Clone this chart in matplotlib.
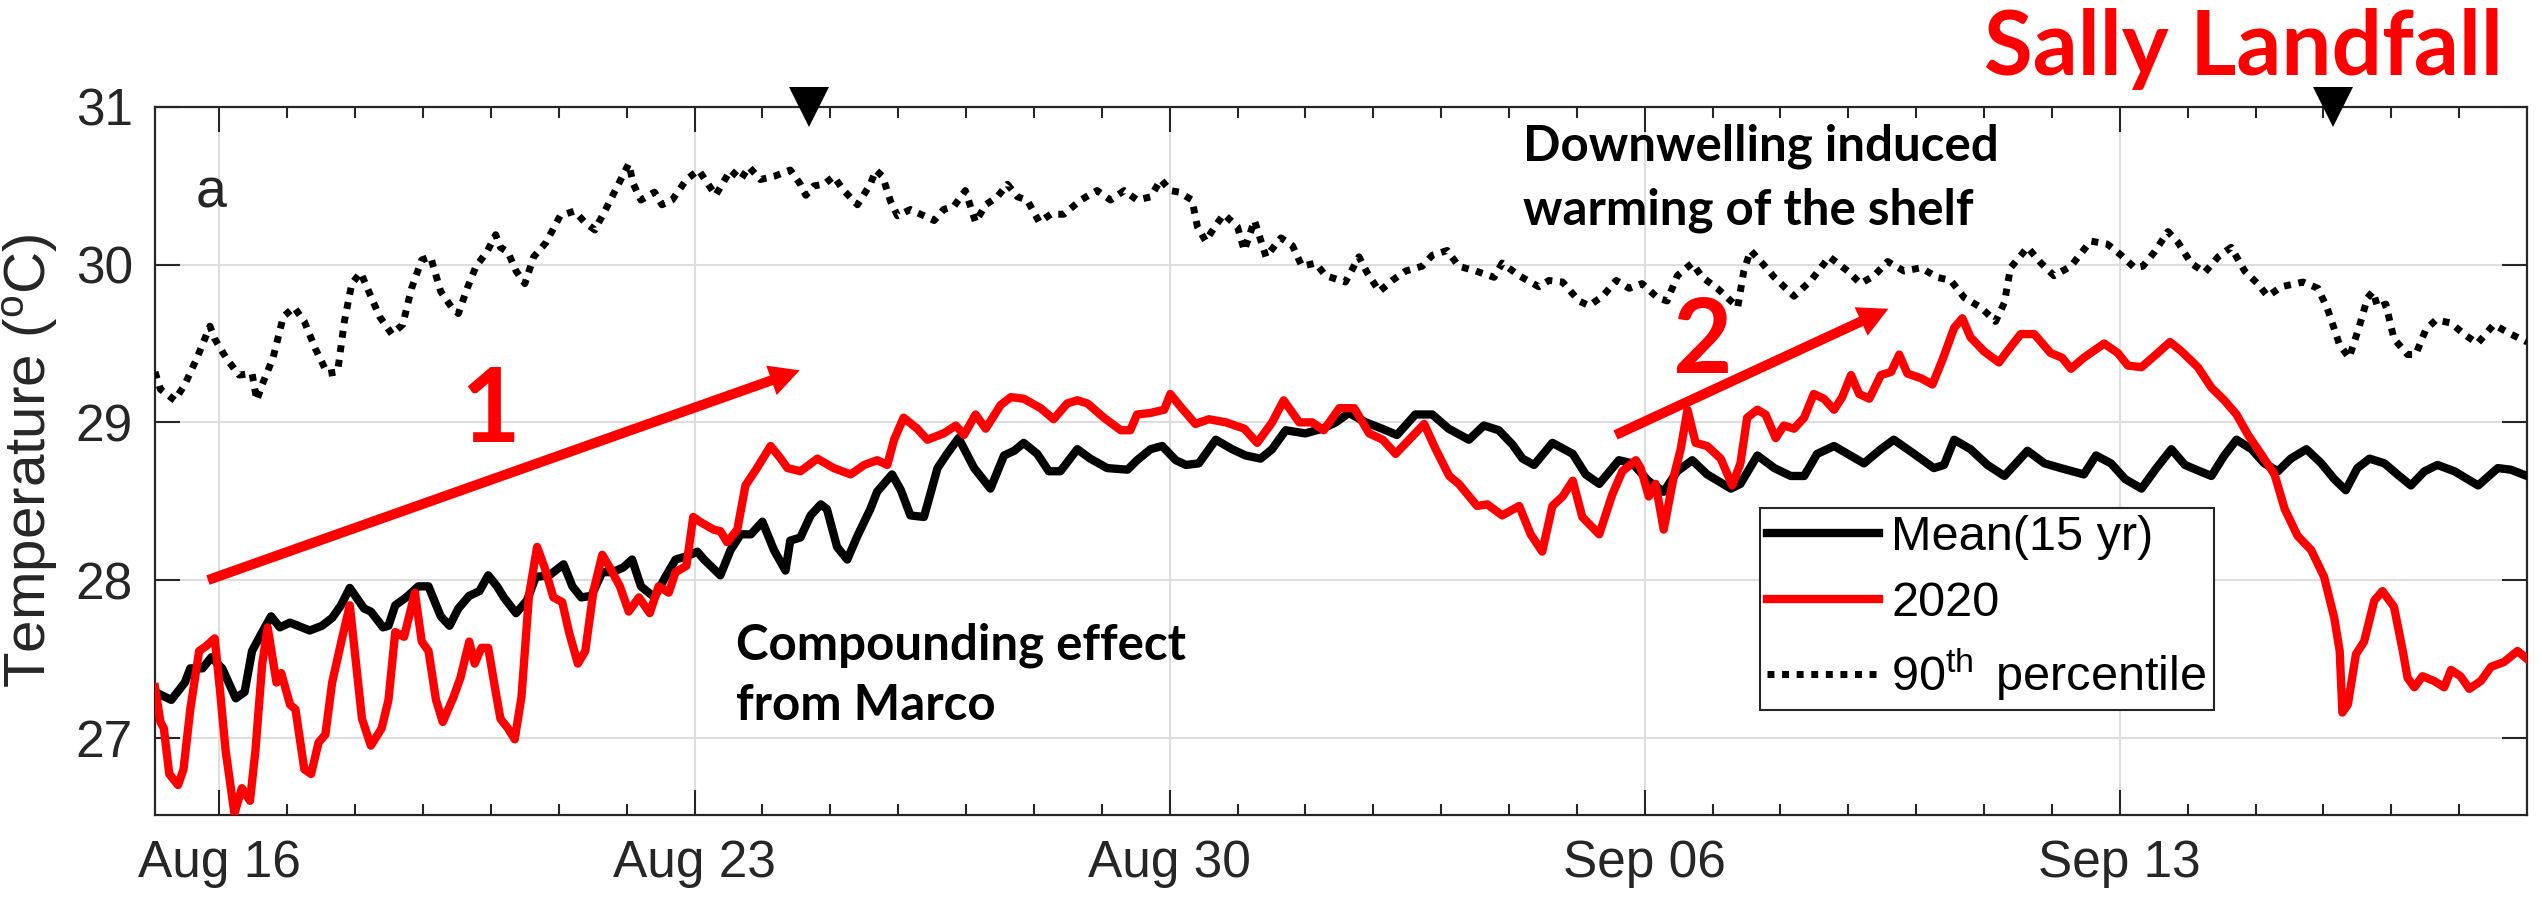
import numpy as np
import matplotlib
matplotlib.use("Agg")
import matplotlib.pyplot as plt
import matplotlib.dates as mdates
from datetime import datetime

plt.rcParams['font.family'] = ['Liberation Sans', 'DejaVu Sans']
plt.rcParams['mathtext.fontset'] = 'custom'
plt.rcParams['mathtext.rm'] = 'Liberation Sans'
plt.rcParams['mathtext.it'] = 'Liberation Sans:italic'

# days since 2020-08-15 00:00
start = mdates.date2num(datetime(2020, 8, 15))

# Mean (15 yr)
t_mean = [0.05, 0.29, 0.49, 0.57, 0.75, 0.88, 1.04, 1.24, 1.37, 1.48, 1.63, 1.76, 1.89, 2.04, 2.33, 2.51,
          2.66, 2.79, 2.92, 3.05, 3.13, 3.23, 3.41, 3.49, 3.59, 3.75, 3.93, 4.08, 4.26, 4.39, 4.52, 4.68,
          4.83, 4.96, 5.09, 5.19, 5.37, 5.53, 5.66, 5.86, 6.07, 6.20, 6.33, 6.48, 6.64, 6.79, 6.95, 7.08,
          7.21, 7.41, 7.57, 7.72, 7.88, 8.04, 8.14, 8.38, 8.53, 8.68, 8.83, 9.00, 9.17, 9.34, 9.41, 9.56,
          9.71, 9.86, 9.95, 10.10, 10.25, 10.40, 10.59, 10.69, 10.91, 11.04, 11.18, 11.38, 11.58, 11.72,
          11.89, 12.12, 12.36, 12.56, 12.71, 12.85, 13.05, 13.22, 13.39, 13.64, 13.83, 14.08, 14.38, 14.52,
          14.72, 14.89, 15.09, 15.24, 15.43, 15.68, 15.92, 16.12, 16.34, 16.51, 16.71, 17.00, 17.25, 17.45,
          17.64, 17.89, 18.13, 18.35, 18.62, 18.87, 19.11, 19.41, 19.63, 19.85, 20.05, 20.20, 20.37, 20.64,
          20.94, 21.13, 21.33, 21.62, 21.82, 22.05, 22.28, 22.48, 22.70, 22.92, 23.27, 23.41, 23.66, 23.91,
          24.15, 24.35, 24.54, 24.79, 24.99, 25.23, 25.48, 25.67, 25.97, 26.26, 26.41, 26.56, 26.80, 27.05,
          27.30, 27.64, 27.89, 28.13, 28.47, 28.65, 28.87, 29.08, 29.32, 29.54, 29.76, 29.96, 30.18, 30.35,
          30.54, 30.72, 30.94, 31.13, 31.33, 31.52, 31.75, 31.97, 32.16, 32.33, 32.50, 32.68, 32.90, 33.09,
          33.29, 33.49, 33.68, 33.93, 34.28, 34.57, 34.76, 35.0]
mean_15yr = [27.29, 27.24, 27.35, 27.44, 27.44, 27.51, 27.44, 27.25, 27.29, 27.55, 27.67, 27.77, 27.70, 27.73,
             27.68, 27.71, 27.76, 27.84, 27.95, 27.87, 27.82, 27.80, 27.70, 27.71, 27.84, 27.89, 27.96, 27.96,
             27.77, 27.71, 27.82, 27.90, 27.93, 28.03, 27.96, 27.89, 27.79, 27.87, 28.02, 28.03, 28.10, 27.96,
             27.89, 27.90, 28.05, 28.05, 28.08, 28.13, 27.96, 27.89, 28.02, 28.13, 28.15, 28.18, 28.13, 28.03,
             28.19, 28.29, 28.29, 28.37, 28.19, 28.06, 28.25, 28.27, 28.41, 28.48, 28.45, 28.21, 28.13, 28.28,
             28.45, 28.56, 28.67, 28.57, 28.41, 28.40, 28.71, 28.80, 28.90, 28.71, 28.58, 28.79, 28.82, 28.87,
             28.80, 28.69, 28.69, 28.83, 28.77, 28.71, 28.70, 28.76, 28.83, 28.85, 28.76, 28.73, 28.74, 28.89,
             28.83, 28.79, 28.77, 28.83, 28.95, 28.93, 28.96, 29.00, 29.06, 29.00, 28.96, 28.92, 29.05, 29.05,
             28.96, 28.89, 28.98, 28.95, 28.86, 28.77, 28.73, 28.87, 28.80, 28.67, 28.61, 28.76, 28.74, 28.63,
             28.56, 28.69, 28.76, 28.67, 28.58, 28.61, 28.79, 28.71, 28.66, 28.66, 28.80, 28.85, 28.80, 28.74,
             28.83, 28.89, 28.80, 28.71, 28.73, 28.89, 28.83, 28.73, 28.66, 28.82, 28.74, 28.71, 28.67, 28.79,
             28.74, 28.64, 28.58, 28.71, 28.83, 28.73, 28.69, 28.66, 28.79, 28.89, 28.83, 28.74, 28.69, 28.77,
             28.83, 28.74, 28.64, 28.57, 28.71, 28.77, 28.74, 28.67, 28.60, 28.69, 28.73, 28.69, 28.60, 28.71,
             28.70, 28.66]

# 2020
t_2020 = [0.05, 0.13, 0.18, 0.26, 0.39, 0.47, 0.57, 0.70, 0.80, 0.93, 1.01, 1.09, 1.22, 1.33, 1.45, 1.53,
          1.63, 1.71, 1.84, 1.91, 2.04, 2.12, 2.25, 2.35, 2.46, 2.56, 2.66, 2.79, 2.92, 3.02, 3.10, 3.23,
          3.39, 3.49, 3.59, 3.72, 3.88, 3.98, 4.08, 4.19, 4.29, 4.45, 4.55, 4.68, 4.76, 4.86, 4.96, 5.07,
          5.14, 5.25, 5.35, 5.45, 5.56, 5.68, 5.79, 5.92, 6.05, 6.15, 6.28, 6.39, 6.51, 6.64, 6.75, 6.90,
          7.03, 7.18, 7.34, 7.47, 7.62, 7.72, 7.88, 7.98, 8.08, 8.28, 8.38, 8.48, 8.63, 8.75, 8.92, 9.12,
          9.27, 9.37, 9.56, 9.81, 10.05, 10.30, 10.50, 10.69, 10.84, 10.94, 11.08, 11.28, 11.43, 11.67,
          11.85, 11.97, 12.14, 12.29, 12.51, 12.66, 12.85, 13.10, 13.29, 13.49, 13.64, 13.79, 14.03, 14.28,
          14.42, 14.52, 14.72, 14.92, 15.01, 15.14, 15.38, 15.58, 15.83, 16.10, 16.29, 16.51, 16.68, 16.91,
          17.10, 17.27, 17.50, 17.72, 17.94, 18.14, 18.33, 18.53, 18.75, 18.92, 19.12, 19.26, 19.53, 19.68,
          19.90, 20.15, 20.32, 20.49, 20.64, 20.79, 20.94, 21.08, 21.33, 21.52, 21.67, 21.87, 21.94, 22.06,
          22.16, 22.28, 22.43, 22.53, 22.63, 22.75, 22.92, 23.12, 23.29, 23.41, 23.51, 23.66, 23.78, 23.93,
          24.05, 24.20, 24.35, 24.49, 24.64, 24.79, 24.91, 25.04, 25.16, 25.31, 25.48, 25.63, 25.75, 25.87,
          26.07, 26.24, 26.39, 26.56, 26.68, 26.80, 27.00, 27.22, 27.34, 27.54, 27.74, 27.98, 28.15, 28.28,
          28.47, 28.77, 28.97, 29.12, 29.32, 29.56, 29.74, 29.91, 30.15, 30.35, 30.54, 30.72, 30.89, 31.08,
          31.28, 31.43, 31.62, 31.82, 32.01, 32.16, 32.24, 32.28, 32.36, 32.48, 32.60, 32.75, 32.87, 33.04,
          33.17, 33.24, 33.34, 33.46, 33.63, 33.78, 33.88, 34.02, 34.15, 34.32, 34.47, 34.66, 34.86, 35.0]
temp_2020 = [27.32, 27.10, 27.06, 26.77, 26.70, 26.80, 27.18, 27.55, 27.58, 27.63, 27.29, 26.92, 26.52, 26.68,
             26.60, 26.92, 27.47, 27.70, 27.35, 27.41, 27.21, 27.18, 26.80, 26.77, 26.97, 27.02, 27.35, 27.60,
             27.84, 27.44, 27.12, 26.95, 27.06, 27.24, 27.67, 27.64, 27.92, 27.61, 27.55, 27.24, 27.10, 27.26,
             27.38, 27.61, 27.47, 27.57, 27.57, 27.29, 27.12, 27.06, 26.99, 27.26, 27.90, 28.21, 28.08, 27.89,
             27.86, 27.67, 27.47, 27.55, 27.93, 28.16, 28.08, 27.96, 27.80, 27.89, 27.79, 27.96, 27.92, 28.05,
             28.09, 28.40, 28.37, 28.32, 28.31, 28.24, 28.32, 28.60, 28.71, 28.85, 28.77, 28.71, 28.69, 28.77,
             28.71, 28.67, 28.73, 28.76, 28.73, 28.89, 29.03, 28.96, 28.89, 28.93, 28.98, 28.92, 29.05, 28.96,
             29.11, 29.16, 29.15, 29.09, 29.02, 29.12, 29.14, 29.12, 29.03, 28.95, 28.95, 29.05, 29.06, 29.08,
             29.18, 29.11, 28.99, 29.02, 29.00, 28.96, 28.87, 29.00, 29.14, 29.00, 29.00, 28.95, 29.09, 29.09,
             28.93, 28.89, 28.80, 28.89, 28.99, 28.83, 28.66, 28.61, 28.47, 28.48, 28.41, 28.47, 28.29, 28.18,
             28.47, 28.53, 28.63, 28.40, 28.29, 28.54, 28.69, 28.76, 28.71, 28.53, 28.61, 28.32, 28.66, 28.83,
             29.08, 28.87, 28.85, 28.77, 28.60, 28.74, 29.03, 29.08, 29.05, 28.90, 28.98, 28.96, 29.03, 29.18,
             29.15, 29.08, 29.16, 29.30, 29.18, 29.15, 29.30, 29.32, 29.43, 29.31, 29.28, 29.24, 29.40, 29.60,
             29.66, 29.54, 29.45, 29.38, 29.45, 29.56, 29.56, 29.44, 29.41, 29.34, 29.41, 29.50, 29.44, 29.36,
             29.35, 29.44, 29.51, 29.45, 29.35, 29.22, 29.14, 29.05, 28.92, 28.80, 28.67, 28.45, 28.28, 28.19,
             28.02, 27.76, 27.55, 27.16, 27.21, 27.53, 27.61, 27.87, 27.93, 27.83, 27.55, 27.38, 27.32, 27.39,
             27.36, 27.32, 27.43, 27.39, 27.31, 27.36, 27.45, 27.48, 27.55, 27.50]

# 90th percentile
t_p90 = [0.05, 0.13, 0.34, 0.49, 0.67, 0.86, 0.93, 1.11, 1.29, 1.48, 1.55, 1.63, 1.79, 1.94, 2.10, 2.25,
         2.41, 2.59, 2.74, 2.84, 2.95, 3.08, 3.21, 3.36, 3.54, 3.70, 3.83, 3.98, 4.11, 4.26, 4.42, 4.52,
         4.65, 4.78, 4.94, 5.07, 5.14, 5.25, 5.37, 5.50, 5.63, 5.81, 6.02, 6.23, 6.38, 6.53, 6.69, 6.90,
         7.03, 7.10, 7.21, 7.41, 7.52, 7.67, 7.88, 8.06, 8.31, 8.53, 8.68, 8.80, 8.97, 9.17, 9.41, 9.56,
         9.64, 9.76, 9.91, 10.05, 10.20, 10.40, 10.59, 10.67, 10.77, 10.89, 10.99, 11.18, 11.38, 11.53,
         11.67, 11.82, 11.99, 12.14, 12.29, 12.46, 12.61, 12.76, 12.90, 13.08, 13.25, 13.44, 13.69, 13.93,
         14.13, 14.33, 14.52, 14.72, 14.87, 15.01, 15.14, 15.33, 15.41, 15.53, 15.68, 15.80, 16.00, 16.10,
         16.25, 16.42, 16.64, 16.81, 16.95, 17.15, 17.30, 17.59, 17.79, 17.91, 18.09, 18.28, 18.48, 18.72,
         18.87, 19.09, 19.26, 19.51, 19.78, 19.90, 20.15, 20.44, 20.59, 20.79, 21.03, 21.18, 21.38, 21.58,
         21.77, 21.96, 22.19, 22.33, 22.48, 22.70, 22.85, 23.07, 23.37, 23.46, 23.56, 23.73, 23.91, 24.20,
         24.45, 24.72, 24.99, 25.18, 25.38, 25.58, 25.82, 26.07, 26.31, 26.51, 26.71, 26.95, 27.17, 27.30,
         27.39, 27.64, 27.84, 28.03, 28.28, 28.57, 28.82, 29.02, 29.22, 29.34, 29.51, 29.71, 29.86, 30.05,
         30.25, 30.45, 30.64, 30.84, 31.03, 31.18, 31.38, 31.70, 31.92, 32.06, 32.24, 32.38, 32.53, 32.65,
         32.73, 32.80, 32.92, 33.04, 33.24, 33.36, 33.51, 33.66, 33.88, 34.07, 34.27, 34.51, 34.76, 35.0]
p90 = [29.32, 29.21, 29.14, 29.24, 29.41, 29.61, 29.53, 29.40, 29.30, 29.31, 29.14, 29.24, 29.41, 29.67,
       29.73, 29.64, 29.47, 29.31, 29.32, 29.64, 29.88, 29.95, 29.82, 29.67, 29.56, 29.62, 29.85, 30.03,
       30.05, 29.83, 29.73, 29.69, 29.85, 29.99, 30.08, 30.19, 30.11, 30.08, 29.96, 29.88, 30.05, 30.14,
       30.31, 30.34, 30.27, 30.22, 30.35, 30.53, 30.64, 30.51, 30.41, 30.46, 30.38, 30.41, 30.54, 30.60,
       30.44, 30.60, 30.54, 30.62, 30.54, 30.56, 30.60, 30.51, 30.44, 30.50, 30.51, 30.56, 30.47, 30.38,
       30.51, 30.60, 30.56, 30.40, 30.31, 30.35, 30.31, 30.28, 30.35, 30.37, 30.47, 30.27, 30.38, 30.43,
       30.51, 30.43, 30.41, 30.27, 30.32, 30.32, 30.41, 30.47, 30.41, 30.47, 30.41, 30.43, 30.54, 30.47,
       30.46, 30.41, 30.24, 30.15, 30.25, 30.32, 30.24, 30.09, 30.28, 30.05, 30.17, 30.12, 29.99, 30.01,
       29.93, 29.89, 30.05, 29.95, 29.83, 29.90, 29.96, 29.99, 30.06, 30.09, 29.99, 29.96, 29.92, 30.01,
       29.93, 29.86, 29.90, 29.89, 29.77, 29.74, 29.80, 29.90, 29.85, 29.88, 29.79, 29.77, 29.93, 30.01,
       29.92, 29.85, 29.73, 29.96, 30.09, 30.01, 29.92, 29.80, 29.90, 30.05, 29.96, 29.88, 29.93, 30.02,
       29.96, 29.98, 29.92, 29.90, 29.79, 29.73, 29.64, 29.76, 29.98, 30.11, 30.01, 29.93, 29.99, 30.15,
       30.13, 30.06, 29.98, 29.99, 30.08, 30.21, 30.14, 30.01, 29.95, 30.05, 30.11, 29.96, 29.88, 29.80,
       29.86, 29.89, 29.85, 29.72, 29.49, 29.41, 29.61, 29.79, 29.83, 29.73, 29.75, 29.53, 29.43, 29.43,
       29.59, 29.65, 29.63, 29.56, 29.50, 29.62, 29.56, 29.51]

landfall_days = [9.69, 32.14]   # Marco, Sally
major_days = [1, 8, 15, 22, 29]
minor_days = list(range(1, 35))

W, H = 2542, 902
fig = plt.figure(figsize=(W / 100, H / 100), dpi=100)
ax = fig.add_axes([155 / W, 1 - 815 / H, (2527 - 155) / W, (815 - 107) / H])

gray = '#262626'
ax.plot(start + np.array(t_mean), mean_15yr, color='black', lw=6, label='Mean(15 yr)', zorder=3)
ax.plot(start + np.array(t_2020), temp_2020, color='red', lw=6, label='2020', zorder=4)
ax.plot(start + np.array(t_p90), p90, color='black', lw=5, ls=(0, (1, 1.1)),
        label=r'90$^{\rm th}\,$ percentile', zorder=3)

ax.plot(start + np.array(landfall_days), [31, 31], 'v', color='black', ms=29, mew=0,
        clip_on=False, zorder=10)

ax.set_xlim(start + 0.05, start + 35.0)
ax.set_ylim(26.51, 31)
ax.set_xticks(start + np.array(major_days))
ax.set_xticks(start + np.array(minor_days), minor=True)
ax.xaxis.set_major_formatter(mdates.DateFormatter('%b %d'))
ax.set_yticks([27, 28, 29, 30, 31])

ax.set_axisbelow(True)
ax.grid(True, which='major', color='#dedede', lw=1.5)
ax.tick_params(which='both', direction='in', top=True, right=True, color=gray, width=1.5)
ax.tick_params(which='major', length=18, labelsize=37, labelcolor=gray)
ax.tick_params(which='minor', length=8)
ax.tick_params(axis='x', which='major', pad=17)
ax.tick_params(axis='y', which='major', pad=16)
for s in ax.spines.values():
    s.set_color(gray)
    s.set_linewidth(1.6)

ax.set_ylabel(r'Temperature ($^{\rm o}$C)', fontsize=42, color=gray)
ax.yaxis.set_label_coords(-95 / 2372, 0.5)

leg = ax.legend(loc='upper left', bbox_to_anchor=(1760 / W, 1 - 508 / H), bbox_transform=fig.transFigure,
                borderaxespad=0, fontsize=35, frameon=True, fancybox=False, edgecolor=gray,
                framealpha=1, handlelength=2.3, handletextpad=0.25, borderpad=0.15, labelspacing=0.42)
leg.get_frame().set_linewidth(1.5)

ax.text(start + 0.65, 30.36, 'a', fontsize=40, color=gray, va='baseline')

bold = dict(family=['Lato', 'DejaVu Sans'], fontweight='bold')
ax.text(start + 4.99, 28.875, '1', color='red', fontsize=74, ha='center', va='baseline', **bold)
ax.text(start + 22.84, 29.312, '2', color='red', fontsize=74, ha='center', va='baseline', **bold)
ax.text(start + 20.20, 30.658, 'Downwelling induced', color='black', fontsize=35.5, va='baseline', **bold)
ax.text(start + 20.20, 30.257, 'warming of the shelf', color='black', fontsize=35.5, va='baseline', **bold)
ax.text(start + 8.617, 27.498, 'Compounding effect', color='black', fontsize=35.5, va='baseline', **bold)
ax.text(start + 8.617, 27.112, 'from Marco', color='black', fontsize=35.5, va='baseline', **bold)
fig.text(2503 / W, 1 - 75 / H, 'Sally Landfall', color='red', fontsize=64, ha='right', va='baseline', **bold)

arrow = dict(arrowstyle='simple,head_length=0.72,head_width=0.75,tail_width=0.24', mutation_scale=30,
             fc='red', ec='none', shrinkA=0, shrinkB=0)
ax.annotate('', xy=(start + 9.55, 29.33), xytext=(start + 0.83, 28.0), arrowprops=arrow)
ax.annotate('', xy=(start + 25.59, 29.72), xytext=(start + 21.57, 28.92), arrowprops=arrow)

fig.savefig('out.png', dpi=100)
